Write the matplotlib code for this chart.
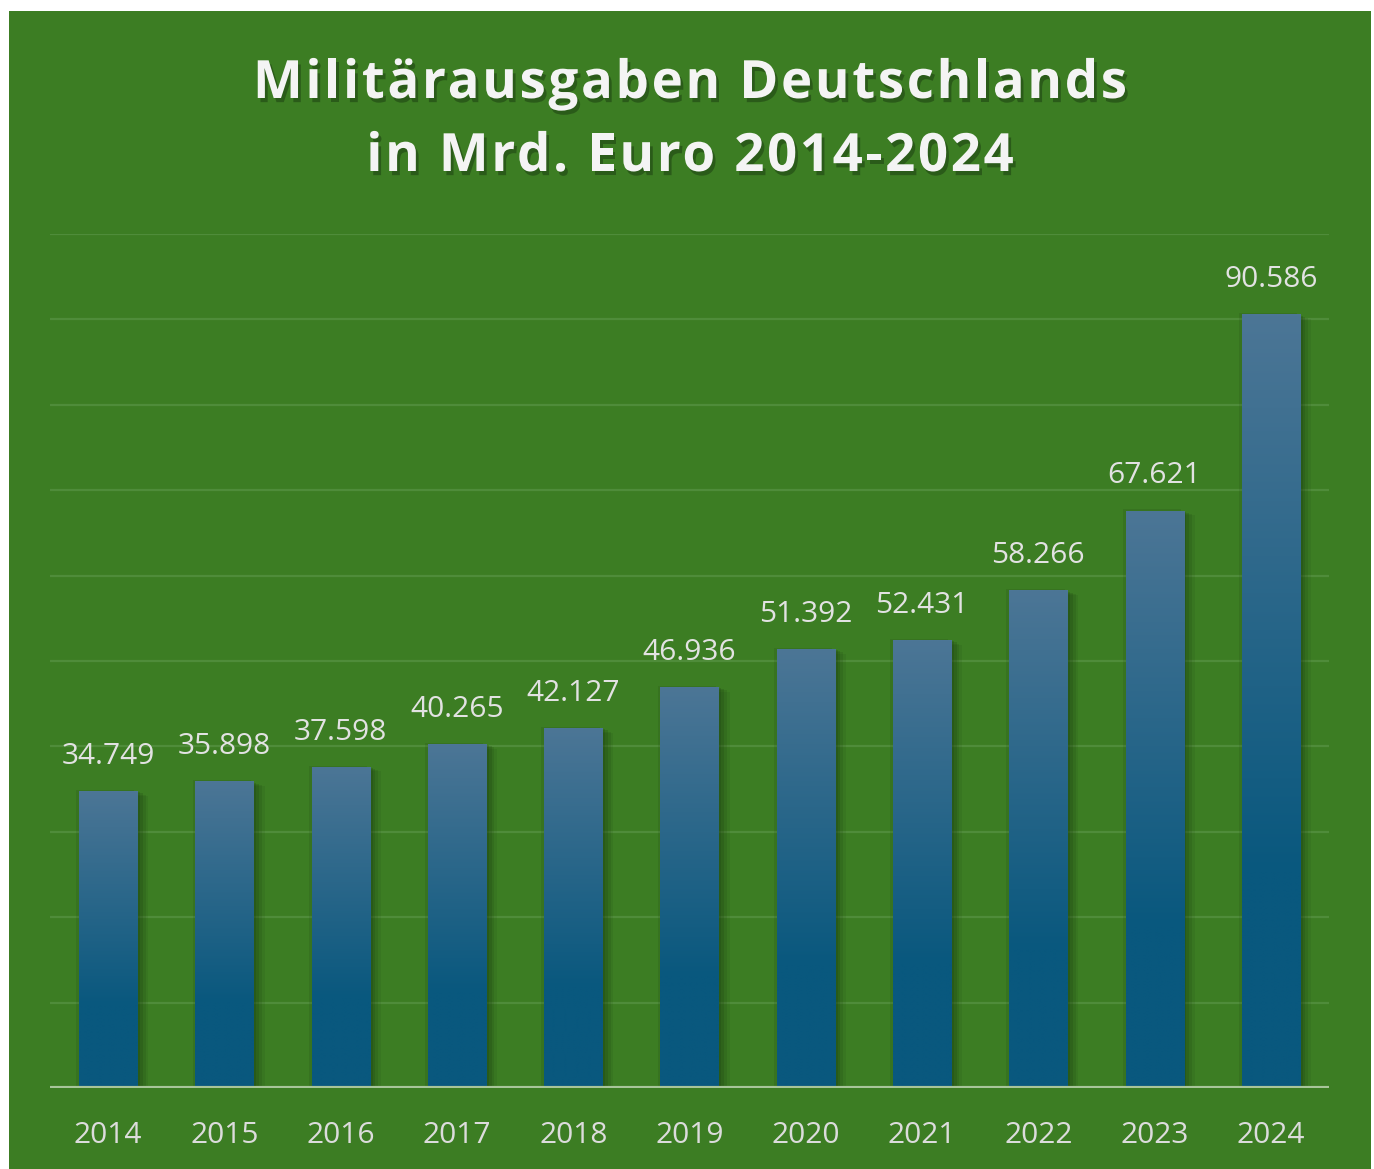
import numpy as np
import matplotlib
matplotlib.use("Agg")
import matplotlib.pyplot as plt
import matplotlib.patheffects as pe
from matplotlib.patches import Rectangle
from matplotlib.font_manager import findfont, FontProperties
from matplotlib.ft2font import FT2Font, Kerning

years = ["2014", "2015", "2016", "2017", "2018", "2019", "2020", "2021", "2022", "2023", "2024"]
values = [34.749, 35.898, 37.598, 40.265, 42.127, 46.936, 51.392, 52.431, 58.266, 67.621, 90.586]
value_labels = ["34.749", "35.898", "37.598", "40.265", "42.127", "46.936",
                "51.392", "52.431", "58.266", "67.621", "90.586"]
title_lines = ["Militärausgaben Deutschlands", "in Mrd. Euro 2014-2024"]

W, H = 1374, 1169
DPI = 100
fig = plt.figure(figsize=(W / DPI, H / DPI), dpi=DPI, facecolor="white")

green = "#3c7d23"
fig.patches.append(Rectangle((9 / W, 0), (1371 - 9) / W, (H - 11) / H,
                             transform=fig.transFigure, facecolor=green,
                             edgecolor="none", zorder=-10))

left, right = 50 / W, 1329 / W
bottom, top = (H - 1088) / H, (H - 234) / H
ax = fig.add_axes([left, bottom, right - left, top - bottom])
ax.set_facecolor("none")
for s in ax.spines.values():
    s.set_visible(False)
ax.set_yticks([])
ax.tick_params(axis="x", length=0, pad=24)
ax.set_xticks(range(len(years)))
ax.set_xticklabels(years, fontsize=21.5, color="#dcdcdc", family="Open Sans")

for g in range(10, 101, 10):
    ax.axhline(g, color="#4f8c3a", lw=1.6, zorder=0)

x = np.arange(len(years))
shadow = [pe.SimplePatchShadow(offset=(o, -o * 0.4), shadow_rgbFace="#1b3d10", alpha=a)
          for o, a in [(8, 0.10), (6, 0.15), (4, 0.2), (2, 0.22), (-2, 0.14)]]
bars = ax.bar(x, values, width=0.5, color="#1f6688", zorder=2,
              path_effects=shadow + [pe.Normal()])

top_c = np.array([76, 118, 150]) / 255
bot_c = np.array([9, 88, 126]) / 255
t = np.linspace(0, 1, 256)
ramp = np.clip(t / 0.72, 0, 1)[:, None]
grad = (top_c[None, :] * (1 - ramp) + bot_c[None, :] * ramp)[:, None, :]
for b, v in zip(bars, values):
    x0 = b.get_x()
    im = ax.imshow(grad, extent=[x0, x0 + b.get_width(), 0, v], origin="upper",
                   aspect="auto", zorder=3, interpolation="bilinear")
    im.set_clip_path(b)

ax.axhline(0, color="#a8c59a", lw=3, zorder=4)

for xi, v, lab in zip(x, values, value_labels):
    ax.annotate(lab, (xi, v), xytext=(0, 19.5), textcoords="offset points",
                ha="center", va="baseline", fontsize=21.5, color="#e2e2e2",
                family="Open Sans")

ax.set_xlim(-0.5, len(years) - 0.5)
ax.set_ylim(0, 100)

# Title with letter spacing, drawn glyph by glyph
tsize = 38
tracking = 2.7
fprop = FontProperties(family="Open Sans", weight="bold", size=tsize)
font = FT2Font(findfont(fprop))
font.set_size(tsize, DPI)
title_shadow = [pe.SimplePatchShadow(offset=(2, -3), shadow_rgbFace="#1a3a10", alpha=0.5), pe.Normal()]
centre_x = 690
for line, base_y in zip(title_lines, [98, 171]):
    advs = []
    prev = None
    for c in line:
        g = font.load_char(ord(c))
        k = 0
        if prev is not None:
            k = font.get_kerning(font.get_char_index(ord(prev)), font.get_char_index(ord(c)),
                                 Kerning.DEFAULT) / 64.0
        advs.append((k, g.linearHoriAdvance / 65536.0))
        prev = c
    total = sum(k + a for k, a in advs) + tracking * (len(line) - 1)
    xpos = centre_x - total / 2
    for c, (k, a) in zip(line, advs):
        xpos += k
        if c != " ":
            fig.text(xpos / W, 1 - base_y / H, c, ha="left", va="baseline",
                     fontproperties=fprop, color="#f4f4f4", path_effects=title_shadow)
        xpos += a + tracking

fig.savefig("out.png", dpi=DPI, facecolor="white")
